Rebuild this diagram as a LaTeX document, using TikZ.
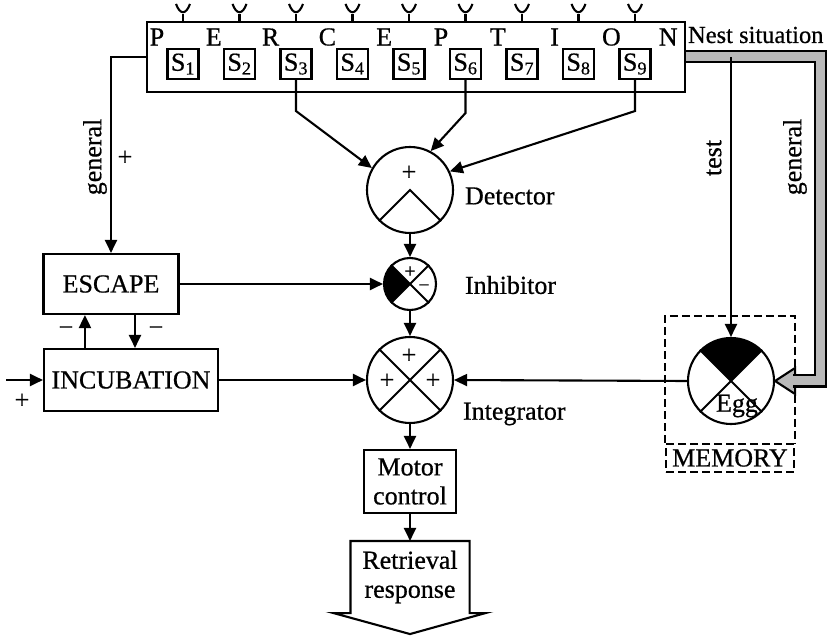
\documentclass[tikz,border=0pt]{standalone}
\usepackage{fontspec}
\setmainfont{Liberation Serif}[FakeBold=0.6]
\usetikzlibrary{arrows.meta,positioning,calc}

\begin{document}
\begin{tikzpicture}[x=1pt,y=-1pt,>={Triangle[length=13pt,width=12pt]},
  line width=2.1pt,font=\fontsize{26}{29}\selectfont,
  box/.style={draw,align=center,inner sep=2pt},
  sbox/.style={draw,minimum width=31pt,minimum height=30pt,inner sep=0pt},
  unit/.style={draw,circle,minimum size=86pt,inner sep=0pt},
  sgn/.style={inner sep=0pt},
  small sgn/.style={inner sep=0pt,font=\fontsize{20}{20}\selectfont},
  band/.style={draw=black,line width=2pt,double=gray!55,double distance=9pt,line join=miter},
  memline/.style={draw,dash pattern=on 8pt off 4pt}]
\useasboundingbox (0,0) rectangle (833,636);

% perception row with the nine sign stimuli
\node[draw,minimum width=538pt,minimum height=70pt,inner sep=0pt] (perc) at (416,57) {};
\foreach \l [count=\k from 0] in {P,E,R,C,E,P,T,I,O,N}
  \node[inner sep=0pt] (l\k) at ({157+56.8*\k},37) {\l};
\foreach \i in {1,...,9} {
  \node[sbox] (s\i) at ({183+56.5*(\i-1)},64) {S\textsubscript{\i}};
  \draw (s\i |- perc.north) -- ++(0,-7) coordinate (r\i);
  \draw ($(r\i)+(-7,-10)$) .. controls ($(r\i)+(-3,1)$) and ($(r\i)+(3,1)$) .. ($(r\i)+(7,-10)$);
}
\node[anchor=west,inner sep=0pt,font=\fontsize{24.5}{28}\selectfont] (nest) at (687,35) {Nest situation};

% central chain
\node[unit] (det) at (410,190) {};
\draw (det.225) -- (det.center) -- (det.315);
\node[sgn] (detp) at (409,173) {+};
\node[anchor=west,inner sep=0pt] (detl) at (464,196) {Detector};

\node[draw,circle,minimum size=52pt,inner sep=0pt] (inh) at (410,284) {};
\fill (inh.center) -- ++(-135:26) arc[start angle=-135,end angle=-225,radius=26] -- cycle;
\draw (inh.45) -- (inh.225) (inh.135) -- (inh.315);
\node[small sgn] (inhp) at (410,272) {+};
\node[small sgn] (inhm) at (424,288) {−};
\node[anchor=west,inner sep=0pt] (inhl) at (464,285) {Inhibitor};

\node[unit] (integ) at (410,380) {};
\draw (integ.45) -- (integ.225) (integ.135) -- (integ.315);
\node[sgn] (ip1) at (409,356) {+};
\node[sgn] (ip2) at (387,381) {+};
\node[sgn] (ip3) at (433,381) {+};
\node[anchor=west,inner sep=0pt] (intl) at (462,414) {Integrator};

\node[box,minimum width=92pt,minimum height=63pt] (mot) at (410,481.5) {Motor\\control};
\node[align=center,minimum width=117pt,minimum height=70pt,inner sep=0pt] (retr) at (410,577) {Retrieval\\response};
\draw[line join=miter] (retr.south west) -- (retr.north west) -- (retr.north east) -- (retr.south east)
  -- ++(16,0) -- ($(retr.south)+(0,21)$) -- ($(retr.south west)+(-17,0)$) -- cycle;

% escape and incubation
\node[box,minimum width=135pt,minimum height=60pt] (esc) at (111,284) {ESCAPE};
\node[box,minimum width=174pt,minimum height=62pt] (inc) at (131,380) {INCUBATION};
\coordinate (in) at (6,380);
\node[sgn] (inp) at (22,401) {+};
\node[sgn] (em1) at (66,331) {−};
\node[sgn] (em2) at (156,331) {−};
\node[rotate=90,inner sep=0pt] (genl) at (95,157) {general};
\node[sgn] (genp) at (125,158) {+};

% egg memory
\node[unit] (egg) at (731,381) {};
\fill (egg.center) -- ++(-45:43) arc[start angle=-45,end angle=-135,radius=43] -- cycle;
\draw (egg.45) -- (egg.225) (egg.135) -- (egg.315);
\node[inner sep=0pt] (eggl) at (737,406) {Egg};
\node[memline,minimum width=128pt,minimum height=28pt,inner sep=0pt] (meml) at (730,458) {MEMORY};
\draw[memline] (meml.north west) -- ++(0,-127) -| (meml.north east);
\node[rotate=90,inner sep=0pt] (testl) at (714,158) {test};
\node[rotate=90,inner sep=0pt] (genr) at (795,157) {general};

% nest situation band
\filldraw[fill=gray!55,line join=miter] ($(egg.east)+(20,-13)$) -- (egg.east) -- ($(egg.east)+(20,13)$) -- cycle;
\draw[band] (perc.east) -| ($(egg.east)+(45,0)$) -- ($(egg.east)+(18,0)$);

% connections
\draw[->] (s3.south) -- ++(0,31) -- (det.150);
\draw[->] (s6.south) -- ++(0,33) -- (det.62);
\draw[->] (s9.south) -- ++(0,31) -- (det.25);
\draw[->] (det.south) -- (inh.north);
\draw[->] (inh.south) -- (integ.north);
\draw[->] (integ.south) -- (mot.north);
\draw[->] (mot.south) -- (retr.north);
\draw[->] (perc.west) -| (esc.north);
\draw[->] (esc.east) -- (inh.west);
\draw[->] (inc.east) -- (integ.west);
\draw[->] (egg.west) -- (integ.east);
\draw[->] (in) -- (inc.west);
\draw[->] ([xshift=42pt]inc.north west) -- ([xshift=42pt]inc.north west |- esc.south);
\draw[->] ([xshift=24pt]esc.south) -- ([xshift=24pt]esc.south |- inc.north);
\draw[->] (egg.north |- perc.east) -- (egg.north);
\end{tikzpicture}
\end{document}
